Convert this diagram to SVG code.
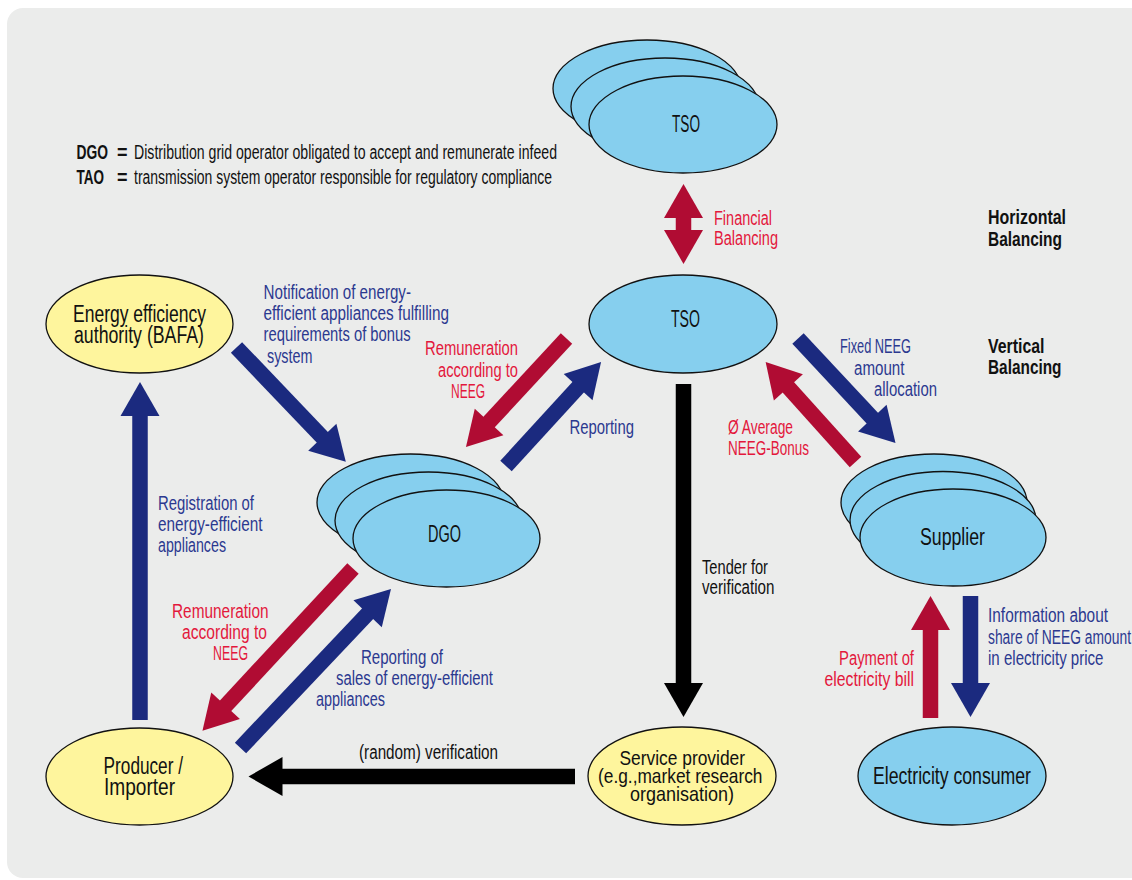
<svg xmlns="http://www.w3.org/2000/svg" width="1132" height="880" viewBox="0 0 1132 880">
<style>
text{font-family:"Liberation Sans",Arial,sans-serif;font-size:20px}
.lg{font-size:19.5px}
.b{font-weight:bold;fill:#111}
.k{fill:#111}
.r{fill:#e3183c}
.n{fill:#2b3990}
.nd{font-size:23.5px;fill:#111}
.sp{font-size:21px;fill:#111}
.blue{fill:#86cfee;stroke:#111;stroke-width:1.3}
.yel{fill:#fef59d;stroke:#111;stroke-width:1.3}
.an{stroke:#1b2a7f;stroke-width:15.5;fill:none}
.ar{stroke:#b00c33;stroke-width:15.5;fill:none}
.ak{stroke:#000;stroke-width:15.5;fill:none}
</style>
<defs>
<marker id="hn" markerUnits="userSpaceOnUse" markerWidth="36" markerHeight="40" refX="1" refY="19.5" orient="auto" overflow="visible"><path d="M0,0 L34,19.5 L0,39 z" fill="#1b2a7f"/></marker>
<marker id="hr" markerUnits="userSpaceOnUse" markerWidth="36" markerHeight="40" refX="1" refY="19.5" orient="auto" overflow="visible"><path d="M0,0 L34,19.5 L0,39 z" fill="#b00c33"/></marker>
<marker id="hrs" markerUnits="userSpaceOnUse" markerWidth="36" markerHeight="40" refX="1" refY="19.5" orient="auto-start-reverse" overflow="visible"><path d="M0,0 L34,19.5 L0,39 z" fill="#b00c33"/></marker>
<marker id="hk" markerUnits="userSpaceOnUse" markerWidth="36" markerHeight="40" refX="1" refY="19.5" orient="auto" overflow="visible"><path d="M0,0 L34,19.5 L0,39 z" fill="#000"/></marker>
</defs>
<rect x="0" y="0" width="1132" height="880" fill="#fff"/>
<rect x="7" y="8" width="1150" height="870" rx="16" fill="#ebeceb"/>

<g id="legend">
<text class="b lg" x="76.5" y="158.5" textLength="31.5" lengthAdjust="spacingAndGlyphs">DGO</text>
<text class="b lg" x="117" y="158.5" textLength="10.5" lengthAdjust="spacingAndGlyphs">=</text>
<text class="k lg" x="134" y="158.5" textLength="423" lengthAdjust="spacingAndGlyphs">Distribution grid operator obligated to accept and remunerate infeed</text>
<text class="b lg" x="76.5" y="183.5" textLength="27.5" lengthAdjust="spacingAndGlyphs">TAO</text>
<text class="b lg" x="117" y="183.5" textLength="10.5" lengthAdjust="spacingAndGlyphs">=</text>
<text class="k lg" x="134" y="183.5" textLength="418" lengthAdjust="spacingAndGlyphs">transmission system operator responsible for regulatory compliance</text>
<text class="b" x="988" y="223.5" textLength="78" lengthAdjust="spacingAndGlyphs">Horizontal</text>
<text class="b" x="988" y="245.5" textLength="74" lengthAdjust="spacingAndGlyphs">Balancing</text>
<text class="b" x="988" y="352.5" textLength="56.5" lengthAdjust="spacingAndGlyphs">Vertical</text>
<text class="b" x="988" y="373.5" textLength="73.5" lengthAdjust="spacingAndGlyphs">Balancing</text>
</g>

<g id="connectors">
<line class="ar" x1="683.5" y1="217" x2="683.5" y2="231" marker-start="url(#hrs)" marker-end="url(#hrs)"/>
<line class="an" x1="236.5" y1="347.5" x2="323" y2="438" marker-end="url(#hn)"/>
<line class="ar" x1="566.5" y1="338.5" x2="488.4" y2="422.8" marker-end="url(#hr)"/>
<line class="an" x1="506" y1="466" x2="578.8" y2="386.4" marker-end="url(#hn)"/>
<line class="an" x1="140" y1="720" x2="140" y2="415" marker-end="url(#hn)"/>
<line class="ak" x1="683.5" y1="384" x2="683.5" y2="684" marker-end="url(#hk)"/>
<line class="an" x1="798" y1="338.5" x2="873" y2="418.9" marker-end="url(#hn)"/>
<line class="ar" x1="855.5" y1="462" x2="787.7" y2="386.6" marker-end="url(#hr)"/>
<line class="ar" x1="353" y1="568.5" x2="224.9" y2="706.5" marker-end="url(#hr)"/>
<line class="an" x1="240.5" y1="748" x2="368.3" y2="613" marker-end="url(#hn)"/>
<line class="ak" x1="575" y1="776.5" x2="281.5" y2="776.5" marker-end="url(#hk)"/>
<line class="ar" x1="930.5" y1="718" x2="930.5" y2="629" marker-end="url(#hr)"/>
<line class="an" x1="970.5" y1="596" x2="970.5" y2="684" marker-end="url(#hn)"/>

<text class="r" x="714" y="224.5" textLength="58" lengthAdjust="spacingAndGlyphs">Financial</text>
<text class="r" x="714" y="244.5" textLength="64" lengthAdjust="spacingAndGlyphs">Balancing</text>

<text class="n" x="263.6" y="298.5" textLength="147.4" lengthAdjust="spacingAndGlyphs">Notification of energy-</text>
<text class="n" x="263.6" y="319.5" textLength="185.4" lengthAdjust="spacingAndGlyphs">efficient appliances fulfilling</text>
<text class="n" x="263.6" y="340.5" textLength="147" lengthAdjust="spacingAndGlyphs">requirements of bonus</text>
<text class="n" x="267" y="362.5" textLength="45.5" lengthAdjust="spacingAndGlyphs">system</text>

<text class="r" x="425" y="354.5" textLength="93" lengthAdjust="spacingAndGlyphs">Remuneration</text>
<text class="r" x="438" y="376.5" textLength="80" lengthAdjust="spacingAndGlyphs">according to</text>
<text class="r" x="451" y="397.5" textLength="34" lengthAdjust="spacingAndGlyphs">NEEG</text>

<text class="n" x="569.4" y="433.5" textLength="64.6" lengthAdjust="spacingAndGlyphs">Reporting</text>

<text class="n" x="158" y="509.5" textLength="96" lengthAdjust="spacingAndGlyphs">Registration of</text>
<text class="n" x="158" y="530.5" textLength="104.5" lengthAdjust="spacingAndGlyphs">energy-efficient</text>
<text class="n" x="158" y="551.5" textLength="68" lengthAdjust="spacingAndGlyphs">appliances</text>

<text class="k" x="702" y="573.5" textLength="66" lengthAdjust="spacingAndGlyphs">Tender for</text>
<text class="k" x="702" y="593.5" textLength="72.5" lengthAdjust="spacingAndGlyphs">verification</text>

<text class="n" x="840" y="352.5" textLength="71" lengthAdjust="spacingAndGlyphs">Fixed NEEG</text>
<text class="n" x="854" y="374.5" textLength="50.5" lengthAdjust="spacingAndGlyphs">amount</text>
<text class="n" x="874" y="395.5" textLength="63" lengthAdjust="spacingAndGlyphs">allocation</text>

<text class="r" x="728" y="433.5" textLength="65" lengthAdjust="spacingAndGlyphs">Ø Average</text>
<text class="r" x="728" y="454.5" textLength="81" lengthAdjust="spacingAndGlyphs">NEEG-Bonus</text>

<text class="r" x="172" y="617.5" textLength="96.6" lengthAdjust="spacingAndGlyphs">Remuneration</text>
<text class="r" x="182" y="638.5" textLength="85" lengthAdjust="spacingAndGlyphs">according to</text>
<text class="r" x="213" y="659.5" textLength="35" lengthAdjust="spacingAndGlyphs">NEEG</text>

<text class="n" x="361" y="663.5" textLength="82" lengthAdjust="spacingAndGlyphs">Reporting of</text>
<text class="n" x="336" y="684.5" textLength="157" lengthAdjust="spacingAndGlyphs">sales of energy-efficient</text>
<text class="n" x="316" y="705.5" textLength="69" lengthAdjust="spacingAndGlyphs">appliances</text>

<text class="k" x="359" y="758.5" textLength="139" lengthAdjust="spacingAndGlyphs">(random) verification</text>

<text class="r" x="839" y="664.5" textLength="75" lengthAdjust="spacingAndGlyphs">Payment of</text>
<text class="r" x="824.5" y="685.5" textLength="89.5" lengthAdjust="spacingAndGlyphs">electricity bill</text>

<text class="n" x="988" y="621.5" textLength="120" lengthAdjust="spacingAndGlyphs">Information about</text>
<text class="n" x="988" y="643.5" textLength="143" lengthAdjust="spacingAndGlyphs">share of NEEG amount</text>
<text class="n" x="988" y="664.5" textLength="115.5" lengthAdjust="spacingAndGlyphs">in electricity price</text>
</g>

<g id="tso-stack">
<ellipse class="blue" cx="647" cy="88.5" rx="94" ry="48.5"/>
<ellipse class="blue" cx="665" cy="106.5" rx="94" ry="48.5"/>
<ellipse class="blue" cx="683" cy="124.5" rx="94" ry="48.5"/>
<text class="nd" x="672" y="131.5" textLength="28" lengthAdjust="spacingAndGlyphs">TSO</text>
</g>

<g id="tso">
<ellipse class="blue" cx="683" cy="324" rx="94" ry="49"/>
<text class="nd" x="671" y="326.5" textLength="29" lengthAdjust="spacingAndGlyphs">TSO</text>
</g>

<g id="bafa">
<ellipse class="yel" cx="139.5" cy="324" rx="93.5" ry="49"/>
<text class="nd" x="73" y="321.5" textLength="133" lengthAdjust="spacingAndGlyphs">Energy efficiency</text>
<text class="nd" x="74" y="342.5" textLength="130" lengthAdjust="spacingAndGlyphs">authority (BAFA)</text>
</g>

<g id="dgo">
<ellipse class="blue" cx="410.5" cy="502.5" rx="93.5" ry="48.5"/>
<ellipse class="blue" cx="428.5" cy="520.5" rx="93.5" ry="48.5"/>
<ellipse class="blue" cx="446.5" cy="538.5" rx="93.5" ry="48.5"/>
<text class="nd" x="428" y="542" textLength="33" lengthAdjust="spacingAndGlyphs">DGO</text>
</g>

<g id="supplier">
<ellipse class="blue" cx="934" cy="502.5" rx="93" ry="48.5"/>
<ellipse class="blue" cx="943" cy="520" rx="93" ry="48.5"/>
<ellipse class="blue" cx="953" cy="537.5" rx="93" ry="48.5"/>
<text class="nd" x="920" y="545" textLength="65" lengthAdjust="spacingAndGlyphs">Supplier</text>
</g>

<g id="producer">
<ellipse class="yel" cx="139.5" cy="776.5" rx="93.5" ry="48.5"/>
<text class="nd" x="103.6" y="774" textLength="79.4" lengthAdjust="spacingAndGlyphs">Producer /</text>
<text class="nd" x="104" y="795" textLength="71" lengthAdjust="spacingAndGlyphs">Importer</text>
</g>

<g id="service-provider">
<ellipse class="yel" cx="682" cy="776" rx="94" ry="49"/>
<text class="sp" x="619.5" y="765" textLength="125.5" lengthAdjust="spacingAndGlyphs">Service provider</text>
<text class="sp" x="598" y="783" textLength="164.5" lengthAdjust="spacingAndGlyphs">(e.g.,market research</text>
<text class="sp" x="630" y="801" textLength="104" lengthAdjust="spacingAndGlyphs">organisation)</text>
</g>

<g id="consumer">
<ellipse class="blue" cx="952" cy="776" rx="94" ry="49"/>
<text class="nd" x="873" y="784" textLength="158" lengthAdjust="spacingAndGlyphs">Electricity consumer</text>
</g>
</svg>
